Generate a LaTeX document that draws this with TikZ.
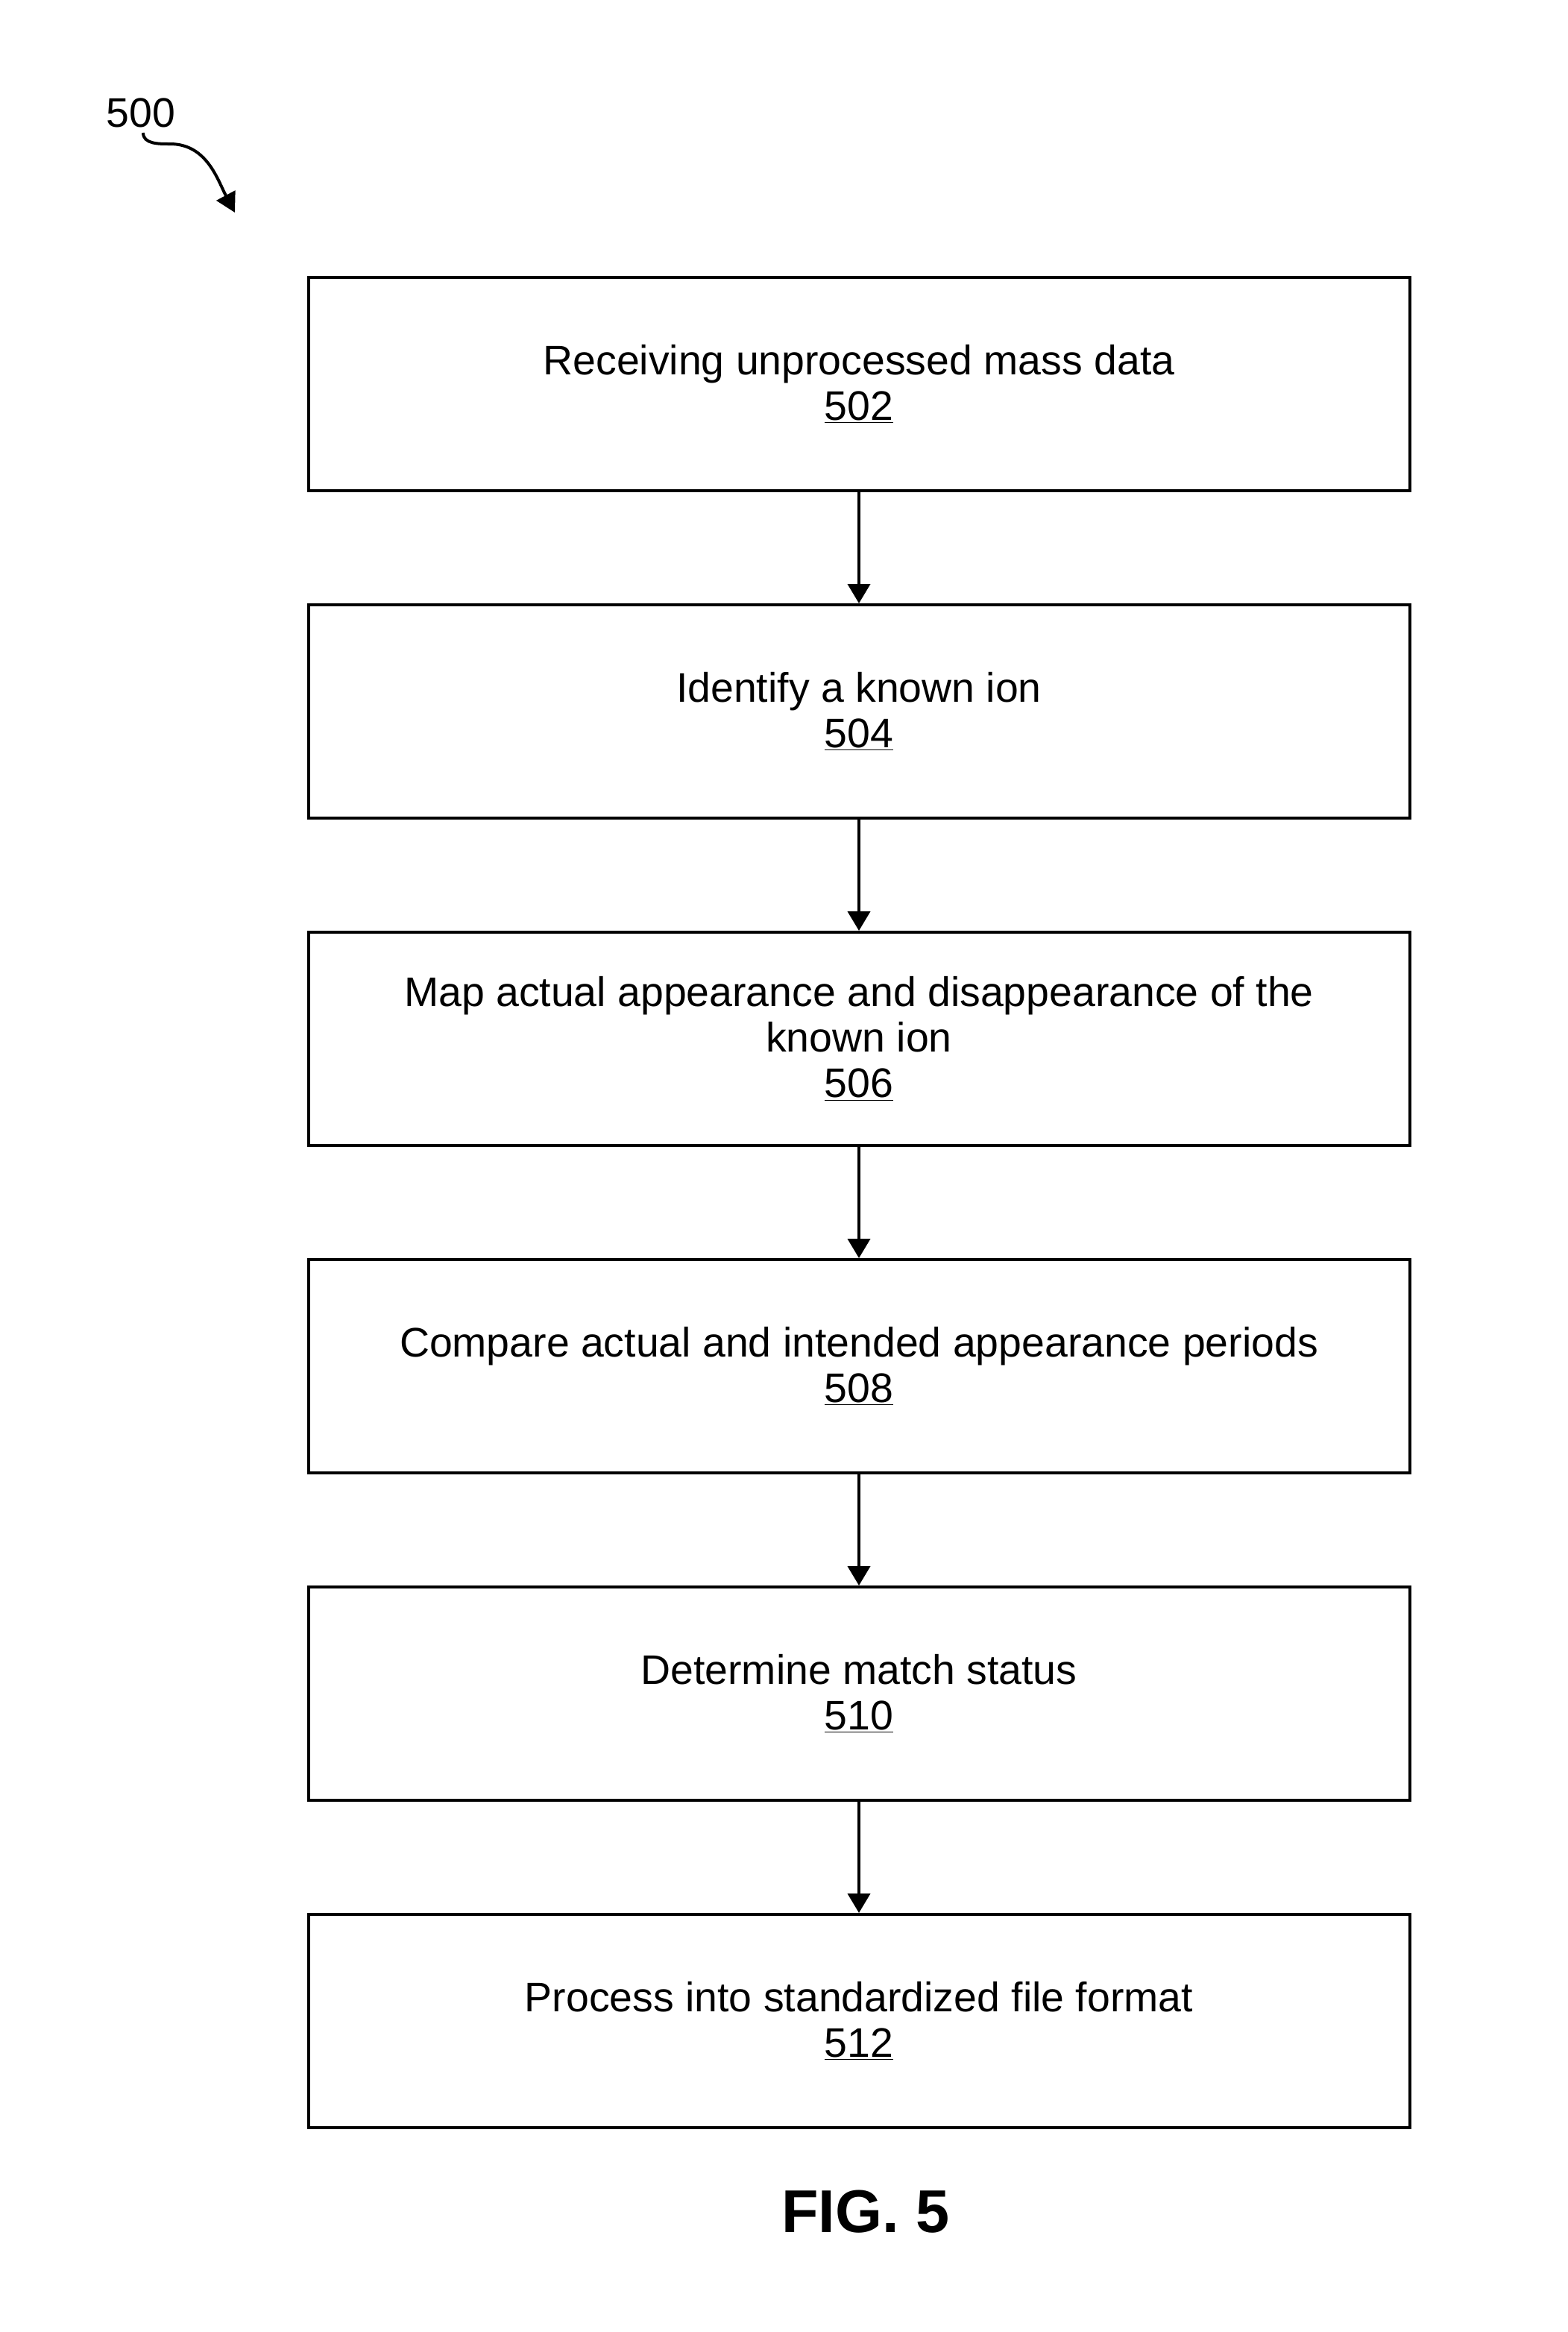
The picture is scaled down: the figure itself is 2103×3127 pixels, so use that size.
\documentclass[tikz,border=0pt]{standalone}
\usepackage{fontspec}
\setmainfont{Liberation Sans}
\usetikzlibrary{arrows.meta}
\begin{document}
\begin{tikzpicture}[x=0.5pt,y=-0.5pt,
  stepbox/.style={draw,line width=2pt,minimum width=738.5pt,minimum height=143pt,align=center,
    font=\fontsize{27.7}{30.5}\selectfont,inner sep=0pt},
  flow/.style={line width=2pt,-{Triangle[length=13pt,width=15pt]}}]
\useasboundingbox (0,0) rectangle (2103,3127);
\node[stepbox] (s502) at (1152,515) {Receiving unprocessed mass data\\\underline{502}};
\node[stepbox] (s504) at (1152,954) {Identify a known ion\\\underline{504}};
\node[stepbox] (s506) at (1152,1393) {Map actual appearance and disappearance of the\\known ion\\\underline{506}};
\node[stepbox] (s508) at (1152,1832) {Compare actual and intended appearance periods\\\underline{508}};
\node[stepbox] (s510) at (1152,2271) {Determine match status\\\underline{510}};
\node[stepbox] (s512) at (1152,2710) {Process into standardized file format\\\underline{512}};
\draw[flow] (s502) -- (s504);
\draw[flow] (s504) -- (s506);
\draw[flow] (s506) -- (s508);
\draw[flow] (s508) -- (s510);
\draw[flow] (s510) -- (s512);
\node[font=\fontsize{27.7}{30}\selectfont,inner sep=0pt] (lbl) at (189,151) {500};
\coordinate (tip) at (315,285);
\draw[line width=2pt,-{Triangle[length=13pt,width=14pt]}] (192,178) to[out=-90,in=180] (228,193) to[out=0,in=118] (tip);
\node[font=\fontsize{40.5}{44}\bfseries,anchor=base,inner sep=0pt] (fig) at (1161,2993) {FIG. 5};
\end{tikzpicture}
\end{document}
